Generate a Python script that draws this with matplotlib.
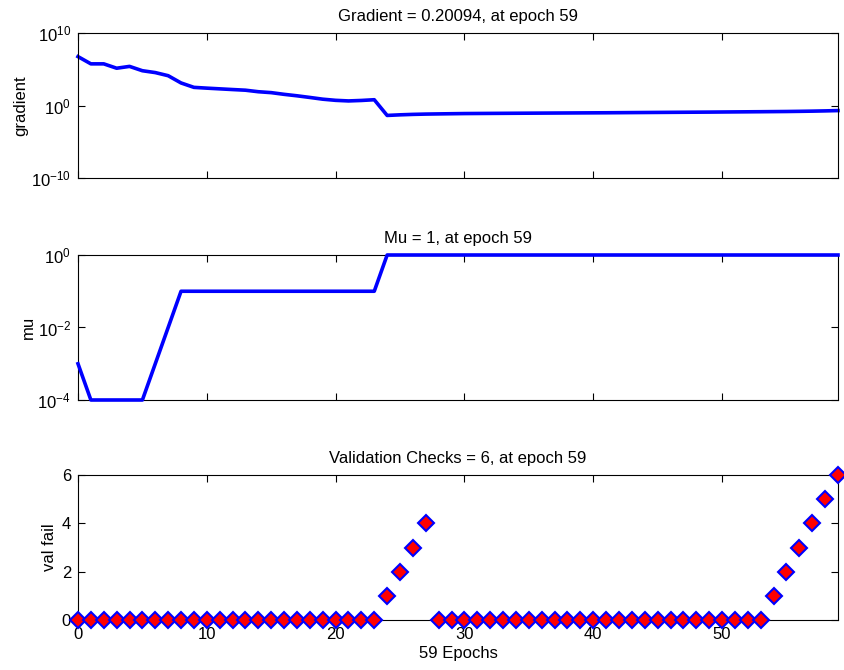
import matplotlib
matplotlib.use('Agg')
import matplotlib.pyplot as plt

plt.rcParams['font.family'] = ['Liberation Sans', 'DejaVu Sans']
plt.rcParams['mathtext.fontset'] = 'custom'
plt.rcParams['mathtext.rm'] = 'Liberation Sans'
plt.rcParams['axes.unicode_minus'] = False

epochs = list(range(60))

# gradient per epoch
gradient = [5.6e6, 5.6e5, 5.6e5, 1.4e5, 2.5e5, 6.3e4, 3.5e4, 1.3e4, 1.3e3, 3.2e2,
            2.5e2, 2.0e2, 1.6e2, 1.3e2, 8.0e1, 6.0e1, 3.5e1, 2.2e1, 1.3e1, 7.5e0,
            5.2e0, 4.3e0, 5.0e0, 6.3e0, 4.3e-2, 5.2e-2, 6.0e-2, 6.6e-2, 7.0e-2, 7.4e-2,
            7.8e-2, 8.0e-2, 8.2e-2, 8.4e-2, 8.6e-2, 8.8e-2, 9.0e-2, 9.2e-2, 9.4e-2, 9.6e-2,
            9.8e-2, 0.100, 0.103, 0.106, 0.109, 0.112, 0.115, 0.118, 0.121, 0.124,
            0.128, 0.132, 0.136, 0.140, 0.145, 0.150, 0.158, 0.168, 0.182, 0.20094]

# mu per epoch
mu = [1e-3, 1e-4, 1e-4, 1e-4, 1e-4, 1e-4, 1e-3, 1e-2, 1e-1, 1e-1,
      1e-1, 1e-1, 1e-1, 1e-1, 1e-1, 1e-1, 1e-1, 1e-1, 1e-1, 1e-1,
      1e-1, 1e-1, 1e-1, 1e-1] + [1.0] * 36

# validation failures per epoch
val_fail = [0] * 24 + [1, 2, 3, 4] + [0] * 26 + [1, 2, 3, 4, 5, 6]

blue = '#0000ff'
fs = 12


def style_axes(ax):
    ax.tick_params(direction='in', top=True, right=True, length=5, width=0.8,
                   labelsize=fs, which='major', pad=5)
    ax.tick_params(which='minor', length=0)
    for s in ax.spines.values():
        s.set_linewidth(0.8)
    ax.set_xlim(0, 59)
    ax.set_xticks([0, 10, 20, 30, 40, 50])


fig = plt.figure(figsize=(8.45, 6.7), dpi=100)
L, W = 0.0923, 0.8994
ax1 = fig.add_axes([L, 0.7343, W, 0.2164])
ax2 = fig.add_axes([L, 0.4030, W, 0.2164])
ax3 = fig.add_axes([L, 0.0746, W, 0.2164])

# Gradient
ax1.semilogy(epochs, gradient, color=blue, linewidth=2.6, clip_on=False)
ax1.set_ylim(1e-10, 1e10)
ax1.set_yticks([1e-10, 1e0, 1e10])
style_axes(ax1)
ax1.set_xticklabels([])
ax1.set_ylabel('gradient', fontsize=fs, labelpad=2)
ax1.set_title('Gradient = 0.20094, at epoch 59', fontsize=fs, pad=9)

# Mu
ax2.semilogy(epochs, mu, color=blue, linewidth=2.6, clip_on=False, zorder=3)
ax2.set_ylim(1e-4, 1e0)
ax2.set_yticks([1e-4, 1e-2, 1e0])
style_axes(ax2)
ax2.set_xticklabels([])
ax2.set_ylabel('mu', fontsize=fs)
ax2.yaxis.set_label_coords(-0.056, 0.5)
ax2.set_title('Mu = 1, at epoch 59', fontsize=fs, pad=9)

# Validation checks
ax3.plot(epochs, val_fail, linestyle='none', marker='D', markersize=8,
         markerfacecolor='red', markeredgecolor=blue, markeredgewidth=1.5,
         clip_on=False, zorder=3)
ax3.set_ylim(0, 6)
ax3.set_yticks([0, 2, 4, 6])
style_axes(ax3)
ax3.set_ylabel('val fail', fontsize=fs)
ax3.yaxis.set_label_coords(-0.028, 0.5)
ax3.set_xlabel('59 Epochs', fontsize=fs, labelpad=3)
ax3.set_title('Validation Checks = 6, at epoch 59', fontsize=fs, pad=9)

plt.savefig('out.png', dpi=100)
